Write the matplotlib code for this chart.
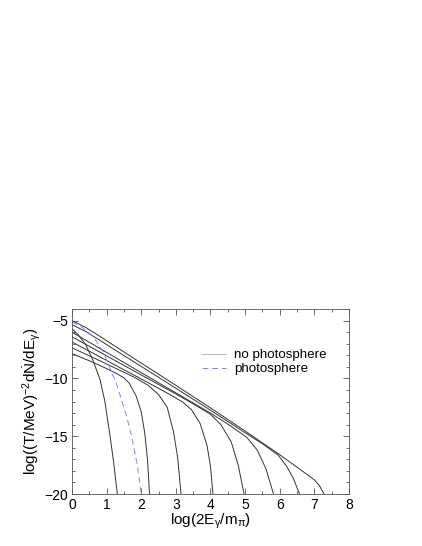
import matplotlib
matplotlib.use("Agg")
import matplotlib.pyplot as plt
from matplotlib.ticker import MultipleLocator

plt.rcParams['font.family'] = ['Liberation Sans', 'DejaVu Sans']
plt.rcParams['mathtext.fontset'] = 'custom'
plt.rcParams['mathtext.rm'] = 'Liberation Sans'
plt.rcParams['mathtext.it'] = 'Liberation Sans'

# Black curves (no photosphere): x = log(2E/m_pi), y = log spectrum
c0_x = [0, 0.2, 0.4, 0.6, 0.81, 0.95, 1.1, 1.2, 1.31]
c0_y = [-5.7, -6.3, -7.1, -8.4, -10.1, -12.0, -15.0, -17.2, -20]
c1_x = [0, 0.6, 1.0, 1.3, 1.5, 1.65, 1.85, 2.0, 2.1, 2.18, 2.24]
c1_y = [-7.85, -8.6, -9.15, -9.6, -9.95, -10.4, -11.5, -12.9, -14.7, -17.0, -20]
c2_x = [0, 1, 1.8, 2.2, 2.5, 2.75, 2.93, 3.05, 3.15]
c2_y = [-7.35, -8.75, -9.9, -10.6, -11.4, -12.5, -14.6, -16.8, -20]
c3_x = [0, 1, 2, 2.8, 3.2, 3.45, 3.7, 3.9, 4.0, 4.07]
c3_y = [-6.85, -8.45, -10.05, -11.35, -12.05, -12.7, -13.9, -15.8, -17.6, -20]
c4_x = [0, 1, 2, 3, 3.5, 4.0, 4.3, 4.6, 4.8, 4.97]
c4_y = [-6.4, -8.05, -9.7, -11.35, -12.2, -13.1, -14.0, -15.5, -17.5, -20]
c5_x = [0, 1, 2, 3, 4, 4.5, 5.05, 5.35, 5.6, 5.82]
c5_y = [-6.0, -7.75, -9.5, -11.25, -13.0, -13.95, -15.1, -16.2, -17.8, -20]
c6_x = [0, 0.4, 0.8, 1.7, 3, 4, 5, 5.5, 5.96, 6.2, 6.4, 6.57]
c6_y = [-5.35, -5.95, -6.7, -8.4, -10.85, -12.75, -14.7, -15.65, -16.65, -17.6, -18.7, -20]
c7_x = [0, 0.4, 0.8, 1.7, 3, 4, 5, 6, 7.0, 7.15, 7.28]
c7_y = [-5.0, -5.6, -6.35, -8.1, -10.6, -12.55, -14.55, -16.6, -18.77, -19.3, -20]

# Blue dashed curve (photosphere)
ph_x = [0, 0.3, 0.62, 0.9, 1.15, 1.3, 1.58, 1.72, 1.88, 2.0]
ph_y = [-5.1, -5.6, -6.4, -7.7, -9.5, -10.6, -13.3, -15.0, -17.4, -20]

black_curves = [(c0_x, c0_y), (c1_x, c1_y), (c2_x, c2_y), (c3_x, c3_y),
                (c4_x, c4_y), (c5_x, c5_y), (c6_x, c6_y), (c7_x, c7_y)]

x_ticks = [0, 1, 2, 3, 4, 5, 6, 7, 8]
y_ticks = [-20, -15, -10, -5]

fig = plt.figure(figsize=(4.22, 5.46), dpi=100)
ax = fig.add_axes([0.1706, 0.0952, 0.6564, 0.3388])

for i, (xs, ys) in enumerate(black_curves):
    ax.plot(xs, ys, color='#333333', lw=0.7,
            label='no photosphere' if i == 0 else None)
ax.plot(ph_x, ph_y, color='#8080ff', lw=0.7, dashes=(6, 4), label='photosphere')

ax.set_xlim(0, 8)
ax.set_ylim(-20, -4)
ax.set_xticks(x_ticks)
ax.set_yticks(y_ticks)
ax.xaxis.set_minor_locator(MultipleLocator(0.5))
ax.yaxis.set_minor_locator(MultipleLocator(1))
ax.tick_params(which='both', direction='in', top=True, right=True,
               labelsize=10, color='#555555', width=0.6, pad=3)
ax.tick_params(which='major', length=4)
ax.tick_params(which='minor', length=2)
for s in ax.spines.values():
    s.set_linewidth(0.6)
    s.set_color('#555555')

ax.set_xlabel(r'log(2E$_{\mathrm{γ}}$/m$_{\mathrm{π}}$)', fontsize=11, labelpad=0)
ax.set_ylabel(r'log((T/MeV)$^{-2}$d$\dot{\mathrm{N}}$/dE$_{\mathrm{γ}}$)', fontsize=11, labelpad=1)

leg = ax.legend(loc='upper left', bbox_to_anchor=(0.447, 0.82), frameon=False,
                fontsize=9.6, handlelength=1.8, handletextpad=0.55,
                labelspacing=0.12, borderpad=0)
leg.get_lines()[0].set_color('#bbbbbb')

fig.savefig('out.png', dpi=100)
